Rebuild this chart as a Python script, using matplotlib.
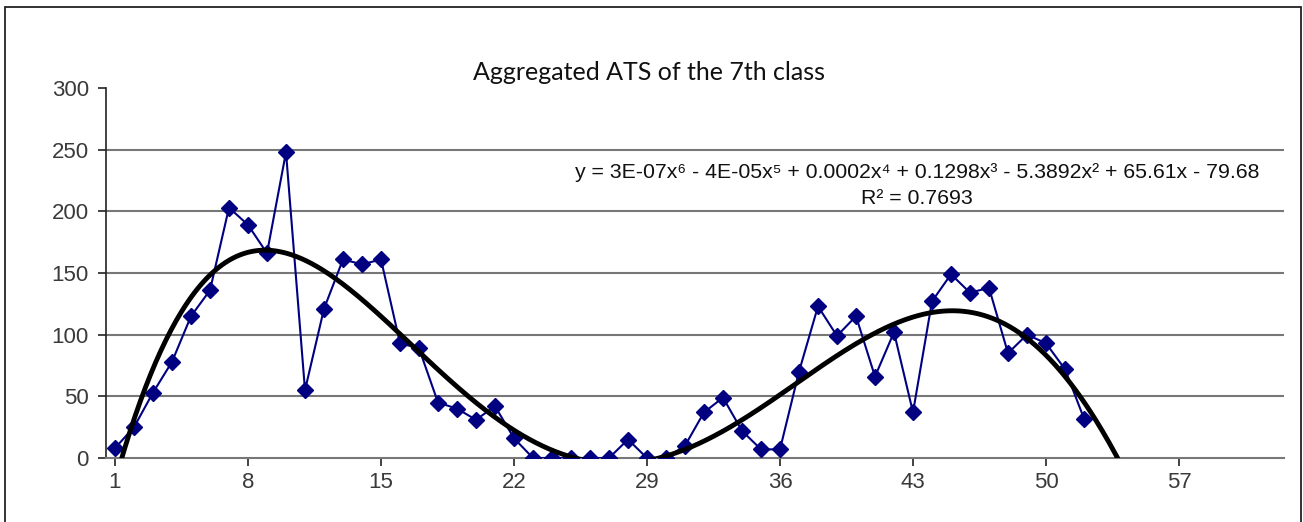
import numpy as np
import matplotlib
matplotlib.use("Agg")
import matplotlib.pyplot as plt
from matplotlib.patches import Rectangle

# ---- data ----
days = list(range(1, 53))
ats = [8, 25, 53, 78, 115, 136, 203, 189, 166, 248,
       55, 121, 161, 157, 161, 93, 89, 45, 40, 31,
       42, 16, 0, 0, 0, 0, 0, 15, 0, 0,
       10, 37, 49, 22, 7, 7, 70, 123, 99, 115,
       66, 102, 37, 127, 149, 134, 138, 85, 100, 93,
       72, 32]
x_ticks = [1, 8, 15, 22, 29, 36, 43, 50, 57]
y_ticks = [0, 50, 100, 150, 200, 250, 300]
title = "Aggregated ATS of the 7th class"
eq_text = "y = 3E-07x\u2076 - 4E-05x\u2075 + 0.0002x\u2074 + 0.1298x\u00b3 - 5.3892x\u00b2 + 65.61x - 79.68"
r2_text = "R\u00b2 = 0.7693"

plt.rcParams['font.family'] = ['Liberation Sans', 'DejaVu Sans']

fig = plt.figure(figsize=(13.03, 5.22), dpi=100)
ax = fig.add_axes([105.5 / 1303, 1 - 458 / 522, (1283.5 - 105.5) / 1303, (458 - 88) / 522])

# chart border
fig.patches.append(Rectangle((5 / 1303, -0.2), (1301 - 5) / 1303, 1.2 - 7 / 522,
                             transform=fig.transFigure, fill=False, edgecolor='#222222', lw=1.3))

x = np.array(days, dtype=float)
y = np.array(ats, dtype=float)
coef = np.polyfit(x, y, 6)
xs = np.linspace(1, 54.5, 600)
ys = np.polyval(coef, xs)

ax.plot(x, y, color='#000080', lw=1.5, marker='D', markersize=8.5, zorder=3)
ax.plot(xs, ys, color='black', lw=3.5, zorder=4)

ax.set_xlim(0.5, 62.5)
ax.set_ylim(0, 300)
ax.set_xticks(x_ticks)
ax.set_yticks(y_ticks)
ax.tick_params(axis='both', labelsize=16, colors='#222222', length=6, width=1.2, labelcolor='#3a3a3a')
ax.tick_params(axis='x', pad=4)
ax.tick_params(axis='y', pad=6)

for v in y_ticks[1:-1]:
    ax.axhline(v, color='#777777', lw=1.5, zorder=1)

for s in ['top', 'right']:
    ax.spines[s].set_visible(False)
ax.spines['left'].set_color('#222222')
ax.spines['left'].set_linewidth(1.2)
ax.spines['bottom'].set_color('#777777')
ax.spines['bottom'].set_linewidth(1.5)

fig.text(649 / 1303, 1 - 72 / 522, title, ha='center', va='center', fontsize=18,
         family=['Lato', 'DejaVu Sans'], color='#111111')
fig.text(917 / 1303, 1 - 172 / 522, eq_text, ha='center', va='center', fontsize=15.3,
         color='#111111')
fig.text(917 / 1303, 1 - 198 / 522, r2_text, ha='center', va='center', fontsize=15.3,
         color='#111111')

fig.savefig("out.png", dpi=100)
